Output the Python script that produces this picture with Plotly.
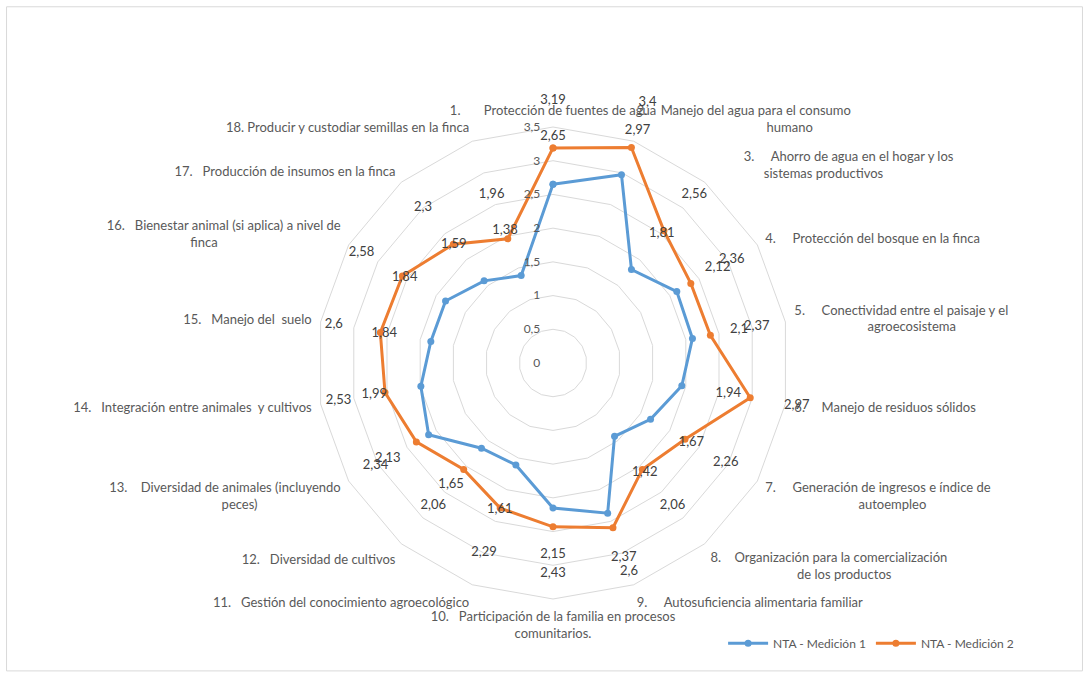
import plotly.graph_objects as go

# Indicadores evaluados (eje angular, sentido horario desde arriba)
categories = [
    "Protección de fuentes de agua",
    "Manejo del agua para el consumo humano",
    "Ahorro de agua en el hogar y los sistemas productivos",
    "Protección del bosque en la finca",
    "Conectividad entre el paisaje y el agroecosistema",
    "Manejo de residuos sólidos",
    "Generación de ingresos e índice de autoempleo",
    "Organización para la comercialización de los productos",
    "Autosuficiencia alimentaria familiar",
    "Participación de la familia en procesos comunitarios.",
    "Gestión del conocimiento agroecológico",
    "Diversidad de cultivos",
    "Diversidad de animales (incluyendo peces)",
    "Integración entre animales y cultivos",
    "Manejo del suelo",
    "Bienestar animal (si aplica) a nivel de finca",
    "Producción de insumos en la finca",
    "Producir y custodiar semillas en la finca",
]

NB = "\u00a0"
tick_labels = [
    "1." + NB * 7 + "Protección de fuentes de agua",
    "2." + NB * 4 + "Manejo del agua para el consumo<br>" + NB * 39 + "humano",
    NB * 10 + "3." + NB * 5 + "Ahorro de agua en el hogar y los<br>" + NB * 16 + "sistemas productivos",
    "4." + NB * 5 + "Protección del bosque en la finca",
    "5." + NB * 5 + "Conectividad entre el paisaje y el<br>" + NB * 22 + "agroecosistema",
    "6." + NB * 5 + "Manejo de residuos sólidos",
    "7." + NB * 5 + "Generación de ingresos e índice de<br>" + NB * 28 + "autoempleo",
    "8." + NB * 4 + "Organización para la comercialización<br>" + NB * 26 + "de los productos",
    "9." + NB * 5 + "Autosuficiencia alimentaria familiar",
    "10." + NB * 3 + "Participación de la familia en procesos<br>comunitarios.",
    "11." + NB * 3 + "Gestión del conocimiento agroecológico",
    "12." + NB * 3 + "Diversidad de cultivos",
    "13." + NB * 4 + "Diversidad de animales (incluyendo<br>peces)" + NB * 25,
    "14." + NB * 3 + "Integración entre animales" + NB * 2 + "y cultivos",
    "15." + NB * 3 + "Manejo del" + NB * 2 + "suelo",
    "16." + NB * 3 + "Bienestar animal (si aplica) a nivel de<br>finca" + NB * 37,
    "17." + NB * 3 + "Producción de insumos en la finca",
    "18. Producir y custodiar semillas en la finca",
]

medicion_1 = [2.65, 2.97, 1.81, 2.12, 2.10, 1.94, 1.67, 1.42, 2.37,
              2.15, 1.61, 1.65, 2.13, 1.99, 1.84, 1.84, 1.59, 1.38]
medicion_2 = [3.19, 3.40, 2.56, 2.36, 2.37, 2.97, 2.26, 2.06, 2.60,
              2.43, 2.29, 2.06, 2.34, 2.53, 2.60, 2.58, 2.30, 1.96]

series = [
    ("NTA - Medición 1", medicion_1, "#5B9BD5"),
    ("NTA - Medición 2", medicion_2, "#ED7D31"),
]

# Geometry of the radar (pixels in a 1089x677 page)
W, H = 1089, 677
CX, CY, RADIUS = 553, 363, 236
R_MAX = 3.5          # outer ring value
R_LABELS = 4.5       # range of the overlay used for the data labels
LABEL_OFFSET = 0.7   # data labels sit radially outside each point


def domain_for(radius_px):
    return dict(
        x=[(CX - radius_px) / W, (CX + radius_px) / W],
        y=[(H - CY - radius_px) / H, (H - CY + radius_px) / H],
    )


def fmt(v):
    return f"{v:g}".replace(".", ",")


FONT = "Lato"

fig = go.Figure()

for name, vals, color in series:
    fig.add_trace(go.Scatterpolar(
        r=vals + vals[:1],
        theta=categories + categories[:1],
        mode="lines+markers",
        name=name,
        line=dict(color=color, width=3),
        marker=dict(color=color, size=7, symbol="circle"),
        subplot="polar",
    ))

for name, vals, color in series:
    fig.add_trace(go.Scatterpolar(
        r=[v + LABEL_OFFSET for v in vals],
        theta=categories,
        mode="text",
        text=[fmt(v) for v in vals],
        textposition="middle center",
        textfont=dict(family=FONT, size=13, color="#404040"),
        cliponaxis=False,
        showlegend=False,
        hoverinfo="skip",
        subplot="polar2",
    ))

angular_common = dict(
    type="category",
    categoryarray=categories,
    rotation=90,
    direction="clockwise",
)

fig.update_layout(
    width=W,
    height=H,
    margin=dict(l=0, r=0, t=0, b=0),
    paper_bgcolor="white",
    plot_bgcolor="white",
    separators=",.",
    font=dict(family=FONT, size=13, color="#595959"),
    polar=dict(
        domain=domain_for(RADIUS),
        bgcolor="white",
        gridshape="linear",
        radialaxis=dict(
            range=[0, R_MAX],
            dtick=0.5,
            angle=90,
            tickangle=90,
            side="counterclockwise",
            showline=False,
            ticks="outside",
            ticklen=8,
            tickcolor="rgba(0,0,0,0)",
            gridcolor="#D9D9D9",
            gridwidth=1,
            tickfont=dict(size=12, color="#595959"),
        ),
        angularaxis=dict(
            **angular_common,
            tickmode="array",
            tickvals=categories,
            ticktext=tick_labels,
            showgrid=False,
            showline=True,
            linecolor="#D9D9D9",
            linewidth=1,
            ticks="outside",
            ticklen=6,
            tickcolor="rgba(0,0,0,0)",
            tickfont=dict(size=13, color="#595959"),
        ),
    ),
    polar2=dict(
        domain=domain_for(RADIUS * R_LABELS / R_MAX),
        bgcolor="rgba(0,0,0,0)",
        radialaxis=dict(range=[0, R_LABELS], visible=False),
        angularaxis=dict(
            **angular_common,
            showgrid=False,
            showline=False,
            showticklabels=False,
            ticks="",
        ),
    ),
    legend=dict(
        orientation="h",
        x=0.664, y=0.05,
        xanchor="left", yanchor="middle",
        font=dict(size=12, color="#595959"),
        itemwidth=40,
        bgcolor="rgba(0,0,0,0)",
    ),
    shapes=[dict(
        type="rect", xref="paper", yref="paper",
        x0=0.006, x1=0.994, y0=0.009, y1=0.99,
        line=dict(color="#D9D9D9", width=1),
        fillcolor="rgba(0,0,0,0)",
        layer="below",
    )],
)

fig.write_html("out.html")
